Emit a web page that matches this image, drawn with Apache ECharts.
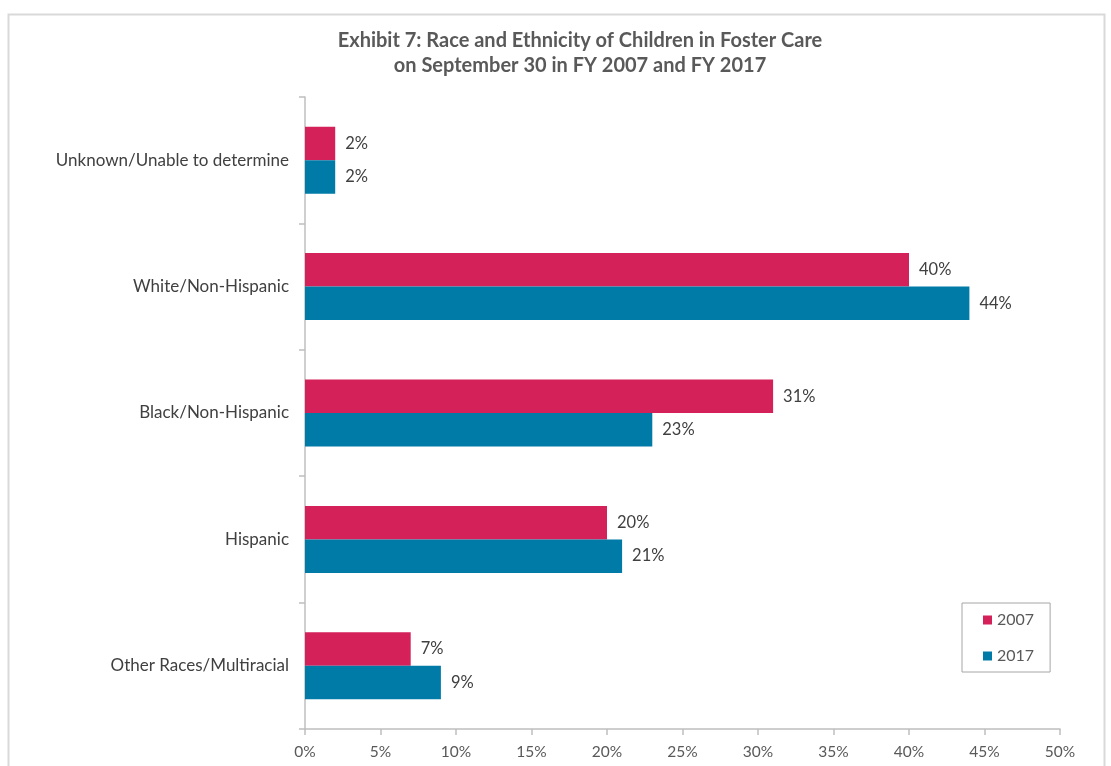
<!DOCTYPE html>
<html>
<head>
<meta charset="utf-8">
<script src="https://cdn.jsdelivr.net/npm/echarts@6/dist/echarts.min.js"></script>
<style>
html,body{margin:0;padding:0;background:#fff;}
#main{width:1111px;height:766px;}
</style>
</head>
<body>
<div id="main"></div>
<script>
const categories = ['Other Races/Multiracial', 'Hispanic', 'Black/Non-Hispanic', 'White/Non-Hispanic', 'Unknown/Unable to determine'];
const values2007 = [7, 20, 31, 40, 2];
const values2017 = [9, 21, 23, 44, 2];
const xTicks = [0, 5, 10, 15, 20, 25, 30, 35, 40, 45, 50];

const chart = echarts.init(document.getElementById('main'));
const font = 'Lato, "Open Sans", sans-serif';
const option = {
  animation: false,
  textStyle: { fontFamily: font },
  graphic: [{
    type: 'rect', z: -1, silent: true,
    shape: { x: 8.5, y: 14.5, width: 1096, height: 800 },
    style: { fill: 'none', stroke: '#d9d9d9', lineWidth: 2 }
  }],
  title: {
    text: 'Exhibit 7: Race and Ethnicity of Children in Foster Care\non September 30 in FY 2007 and FY 2017',
    left: 575, top: 23, textAlign: 'center',
    textStyle: { fontFamily: font, fontSize: 20, fontWeight: 'bold', color: '#595959', lineHeight: 25 }
  },
  legend: {
    orient: 'vertical',
    left: 962, top: 603,
    padding: [9, 16, 8, 21],
    itemGap: 20,
    borderColor: '#a6a6a6', borderWidth: 1,
    itemWidth: 9, itemHeight: 9,
    icon: 'rect',
    data: ['2007', '2017'],
    textStyle: { fontFamily: font, fontSize: 16, color: '#595959' }
  },
  grid: { left: 305, right: 51, top: 97, bottom: 37, containLabel: false },
  xAxis: {
    type: 'value', min: 0, max: 50, interval: 5,
    axisLine: { show: true, lineStyle: { color: '#bfbfbf', width: 1.5 } },
    axisTick: { show: true, length: 6, lineStyle: { color: '#bfbfbf', width: 1.5 } },
    splitLine: { show: false },
    axisLabel: { formatter: v => xTicks.includes(v) ? v + '%' : '', fontSize: 15.5, color: '#595959', margin: 15, fontFamily: font }
  },
  yAxis: {
    type: 'category', data: categories,
    axisLine: { show: true, lineStyle: { color: '#bfbfbf', width: 1.5 } },
    axisTick: { show: true, length: 6, lineStyle: { color: '#bfbfbf', width: 1.5 } },
    axisLabel: { fontSize: 17, color: '#404040', margin: 16, fontFamily: font }
  },
  series: [
    {
      name: '2007', type: 'bar', data: values2007,
      barCategoryGap: '47%', barGap: '0%',
      itemStyle: { color: '#D4215A' },
      label: { show: true, position: 'right', formatter: '{c}%', fontSize: 16.5, color: '#404040', distance: 10, fontFamily: font }
    },
    {
      name: '2017', type: 'bar', data: values2017,
      barCategoryGap: '47%', barGap: '0%',
      itemStyle: { color: '#007BA7' },
      label: { show: true, position: 'right', formatter: '{c}%', fontSize: 16.5, color: '#404040', distance: 10, fontFamily: font }
    }
  ]
};
chart.setOption(option);
</script>
</body>
</html>
